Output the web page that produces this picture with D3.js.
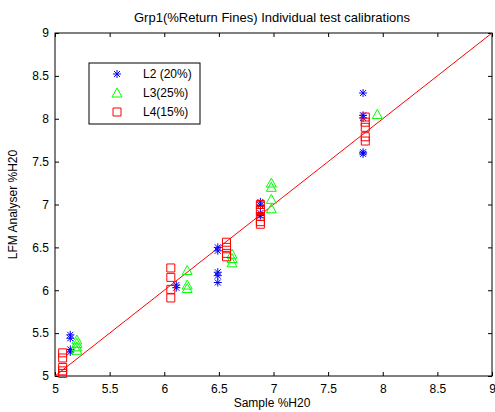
<!DOCTYPE html>
<html>
<head>
<meta charset="utf-8">
<script src="https://cdn.jsdelivr.net/npm/d3@7"></script>
<style>
  body { margin: 0; background: #fff; }
  svg { font-family: "Liberation Sans", Arial, sans-serif; }
</style>
</head>
<body>
<div id="chart"></div>
<script>
// sample %H20 vs analyser %H20
const l2 = [[5.14,5.48],[5.14,5.44],[5.14,5.31],[5.14,5.28],[6.11,6.06],[6.11,6.03],
    [6.49,6.50],[6.49,6.46],[6.49,6.21],[6.49,6.17],[6.49,6.09],
    [6.88,7.03],[6.88,6.99],[6.88,6.90],[6.88,6.87],
    [7.82,8.30],[7.82,8.04],[7.82,8.01],[7.82,7.61],[7.82,7.59]];
const l3 = [[5.20,5.42],[5.20,5.38],[5.20,5.34],[5.20,5.30],
    [6.21,6.23],[6.21,6.06],[6.21,6.02],[6.62,6.42],[6.62,6.37],[6.62,6.32],
    [6.98,7.25],[6.98,7.20],[6.98,7.06],[6.98,6.95],[7.95,8.05]];
const l4 = [[5.07,5.27],[5.07,5.21],[5.07,5.10],[5.07,5.06],[5.07,5.03],
    [6.06,6.26],[6.06,6.15],[6.06,6.01],[6.06,5.91],
    [6.57,6.56],[6.57,6.50],[6.57,6.43],[6.57,6.39],
    [6.88,7.00],[6.88,6.93],[6.88,6.86],[6.88,6.80],[6.88,6.77],
    [7.84,8.02],[7.84,7.96],[7.84,7.90],[7.84,7.79],[7.84,7.74]];
const seriesNames = ["L2 (20%)", "L3(25%)", "L4(15%)"];
const xTicks = [5, 5.5, 6, 6.5, 7, 7.5, 8, 8.5, 9];
const yTicks = [5, 5.5, 6, 6.5, 7, 7.5, 8, 8.5, 9];
const fitLine = [[5, 5], [9, 9]];

const width = 495, height = 412;
const margin = { top: 33, right: 3, bottom: 36, left: 55 };

const svg = d3.select("#chart").append("svg")
    .attr("width", width)
    .attr("height", height);

const x = d3.scaleLinear().domain([5, 9]).range([margin.left, width - margin.right]);
const y = d3.scaleLinear().domain([5, 9]).range([height - margin.bottom, margin.top]);

const fmt = d => d3.format("")(d);

// axes, ticks pointing inward like matlab
svg.append("g")
    .attr("transform", `translate(0,${y(5)})`)
    .call(d3.axisBottom(x).tickValues(xTicks).tickFormat(fmt).tickSizeInner(-4).tickSizeOuter(0).tickPadding(8))
    .call(g => g.select(".domain").remove());
svg.append("g")
    .attr("transform", `translate(0,${y(9)})`)
    .call(d3.axisTop(x).tickValues(xTicks).tickFormat("").tickSizeInner(-4).tickSizeOuter(0))
    .call(g => g.select(".domain").remove());
svg.append("g")
    .attr("transform", `translate(${x(5)},0)`)
    .call(d3.axisLeft(y).tickValues(yTicks).tickFormat(fmt).tickSizeInner(-4).tickSizeOuter(0).tickPadding(6))
    .call(g => g.select(".domain").remove());
svg.append("g")
    .attr("transform", `translate(${x(9)},0)`)
    .call(d3.axisRight(y).tickValues(yTicks).tickFormat("").tickSizeInner(-4).tickSizeOuter(0))
    .call(g => g.select(".domain").remove());

svg.selectAll(".tick text").attr("font-size", "12px").attr("fill", "#000")
    .attr("font-family", "Liberation Sans, Arial, sans-serif");
svg.selectAll(".tick line").attr("stroke", "#000");

svg.append("rect")
    .attr("x", x(5)).attr("y", y(9))
    .attr("width", x(9) - x(5)).attr("height", y(5) - y(9))
    .attr("fill", "none").attr("stroke", "#000");

// 1:1 line
svg.append("line")
    .attr("x1", x(fitLine[0][0])).attr("y1", y(fitLine[0][1]))
    .attr("x2", x(fitLine[1][0])).attr("y2", y(fitLine[1][1]))
    .attr("stroke", "#ff0000").attr("stroke-width", 1);

const starPath = "M-4,0H4M0,-4V4M-3,-3L3,3M-3,3L3,-3";
const triPath = "M0,-5L5,4H-5Z";
const sqPath = "M-4,-4H4V4H-4Z";

const markers = [
    { data: l2, path: starPath, color: "#0000ff" },
    { data: l3, path: triPath, color: "#00ff00" },
    { data: l4, path: sqPath, color: "#ff0000" }
];

markers.forEach(m => {
    svg.append("g").selectAll("path")
        .data(m.data)
        .enter()
        .append("path")
        .attr("transform", d => `translate(${x(d[0])},${y(d[1])})`)
        .attr("d", m.path)
        .attr("fill", "none")
        .attr("stroke", m.color)
        .attr("stroke-width", 1);
});

// legend
const legend = svg.append("g");
legend.append("rect")
    .attr("x", 89).attr("y", 63).attr("width", 111).attr("height", 61)
    .attr("fill", "#fff").attr("stroke", "#000");
seriesNames.forEach((name, i) => {
    legend.append("path")
        .attr("transform", `translate(117,${74 + i * 19})`)
        .attr("d", markers[i].path)
        .attr("fill", "none")
        .attr("stroke", markers[i].color);
    legend.append("text")
        .attr("x", 143).attr("y", 78 + i * 19)
        .attr("font-size", "12px")
        .text(name);
});

svg.append("text")
    .attr("x", 272).attr("y", 22)
    .attr("text-anchor", "middle")
    .attr("font-size", "13px")
    .text("Grp1(%Return Fines) Individual test calibrations");

svg.append("text")
    .attr("x", 272).attr("y", 407)
    .attr("text-anchor", "middle")
    .attr("font-size", "12px")
    .text("Sample %H20");

svg.append("text")
    .attr("transform", `translate(17,${(y(5) + y(9)) / 2}) rotate(-90)`)
    .attr("text-anchor", "middle")
    .attr("font-size", "12px")
    .text("LFM Analyser %H20");
</script>
</body>
</html>
